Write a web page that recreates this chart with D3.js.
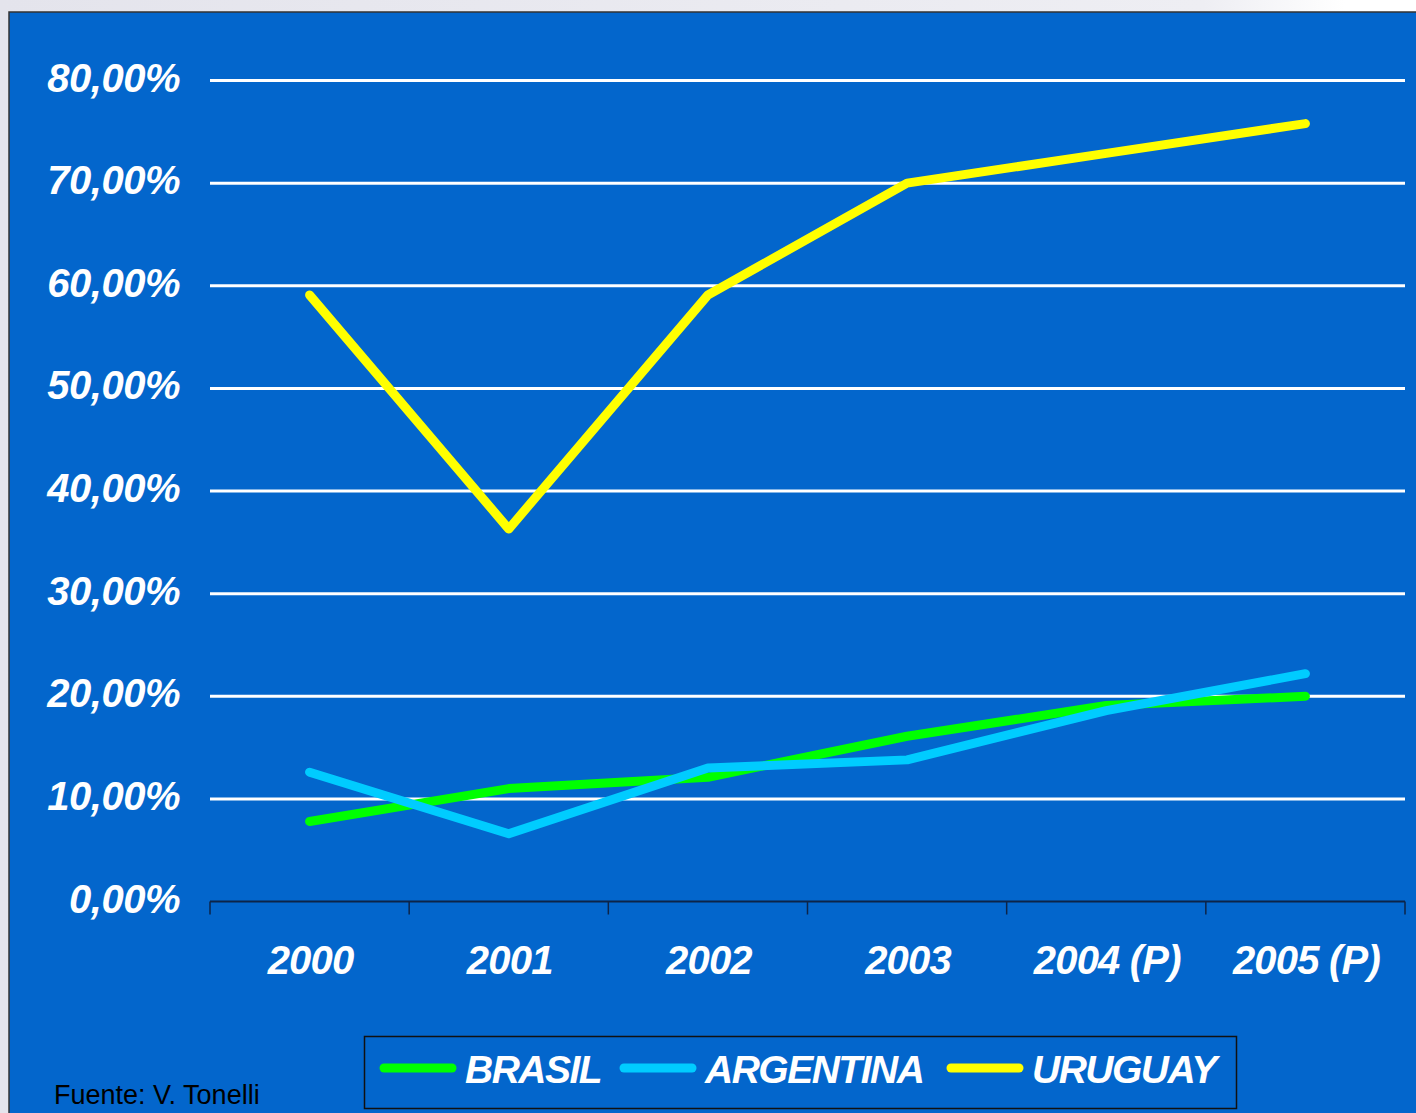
<!DOCTYPE html>
<html><head><meta charset="utf-8">
<script src="https://cdn.jsdelivr.net/npm/d3@7"></script>
<style>
html,body{margin:0;padding:0;background:#fff;}
svg{display:block;}
</style></head>
<body>
<script>
const categories = ["2000","2001","2002","2003","2004 (P)","2005 (P)"];
const brasil    = [7.8, 11.0, 12.1, 16.1, 19.1, 20.0];
const argentina = [12.6, 6.6, 13.0, 13.8, 18.6, 22.2];
const uruguay   = [59.1, 36.3, 59.1, 70.0, 72.9, 75.8];
const yTicks = [0,10,20,30,40,50,60,70,80];
const seriesNames = ["BRASIL","ARGENTINA","URUGUAY"];
const seriesColors = ["#00FF00","#00CCFF","#FFFF00"];
const source = "Fuente: V. Tonelli";

const W = 1416, H = 1113;
const svg = d3.select("body").append("svg").attr("width", W).attr("height", H);

const defs = svg.append("defs");
const g1 = defs.append("linearGradient").attr("id","bgfade").attr("x1","0").attr("x2","1").attr("y1","0").attr("y2","0");
g1.append("stop").attr("offset","0").attr("stop-color","#E4E4EC");
g1.append("stop").attr("offset","0.85").attr("stop-color","#EEEEF3");
g1.append("stop").attr("offset","0.95").attr("stop-color","#FFFFFF");
svg.append("rect").attr("width",W).attr("height",H).attr("fill","url(#bgfade)");

// chart frame
svg.append("rect").attr("x",9).attr("y",12).attr("width",1420).attr("height",1110)
  .attr("fill","#0366CC").attr("stroke","#333").attr("stroke-width",1.5);

const x = d3.scaleBand().domain(categories).range([210,1405]);
const y = d3.scaleLinear().domain([0,80]).range([901.5,80.5]);

const fmt = v => d3.format(".2f")(v).replace(".",",") + "%";

// gridlines
svg.append("g").selectAll("line").data(yTicks.filter(t=>t>0)).join("line")
  .attr("x1",210).attr("x2",1405)
  .attr("y1",d=>y(d)).attr("y2",d=>y(d))
  .attr("stroke","#fff").attr("stroke-width",3);

// y labels
svg.append("g").selectAll("text").data(yTicks).join("text")
  .attr("x",180).attr("y",d=>y(d)+11)
  .attr("text-anchor","end")
  .attr("font-family","Liberation Sans, Arial, sans-serif")
  .attr("font-weight","bold").attr("font-style","italic")
  .attr("font-size",40).attr("letter-spacing",-0.5)
  .attr("fill","#fff").text(fmt);

// x axis
const xAxis = d3.axisBottom(x).tickSize(0).tickFormat("");
const ax = svg.append("g").attr("transform",`translate(0,${y(0)})`).call(xAxis);
ax.select(".domain").attr("stroke","#0d2448").attr("stroke-width",2).attr("d","M210,0H1405");
const bounds = categories.map(c=>x(c)).concat([x.range()[1]]);
ax.selectAll(".bt").data(bounds).join("line").attr("class","bt")
  .attr("x1",d=>d).attr("x2",d=>d).attr("y1",0).attr("y2",13)
  .attr("stroke","#0d2448").attr("stroke-width",1.5);

svg.append("g").selectAll("text").data(categories).join("text")
  .attr("x",d=>x(d)+x.bandwidth()/2+1).attr("y",974)
  .attr("text-anchor","middle")
  .attr("font-family","Liberation Sans, Arial, sans-serif")
  .attr("font-weight","bold").attr("font-style","italic")
  .attr("font-size",40).attr("letter-spacing",-0.8)
  .attr("fill","#fff").text(d=>d);

// lines
const series = [brasil, argentina, uruguay];
const line = d3.line().x((d,i)=>x(categories[i])+x.bandwidth()/2).y(d=>y(d));
svg.append("g").selectAll("path").data(series).join("path")
  .attr("d",line).attr("fill","none")
  .attr("stroke",(d,i)=>seriesColors[i]).attr("stroke-width",9)
  .attr("stroke-linecap","round").attr("stroke-linejoin","round");

// legend
const lg = svg.append("g");
lg.append("rect").attr("x",364.5).attr("y",1036.5).attr("width",872).attr("height",72)
  .attr("fill","none").attr("stroke","#111").attr("stroke-width",1.5);
const legX = [380, 620, 947];
seriesNames.forEach((n,i)=>{
  lg.append("line").attr("x1",legX[i]+4).attr("x2",legX[i]+72).attr("y1",1068).attr("y2",1068)
    .attr("stroke",seriesColors[i]).attr("stroke-width",9).attr("stroke-linecap","round");
  lg.append("text").attr("x",legX[i]+85).attr("y",1083)
    .attr("font-family","Liberation Sans, Arial, sans-serif")
    .attr("font-weight","bold").attr("font-style","italic")
    .attr("font-size",39).attr("letter-spacing",-1.5)
    .attr("fill","#fff").text(n);
});

svg.append("text").attr("x",54).attr("y",1104)
  .attr("font-family","Liberation Sans, Arial, sans-serif")
  .attr("font-size",27).attr("fill","#000").text(source);
</script>
</body></html>
